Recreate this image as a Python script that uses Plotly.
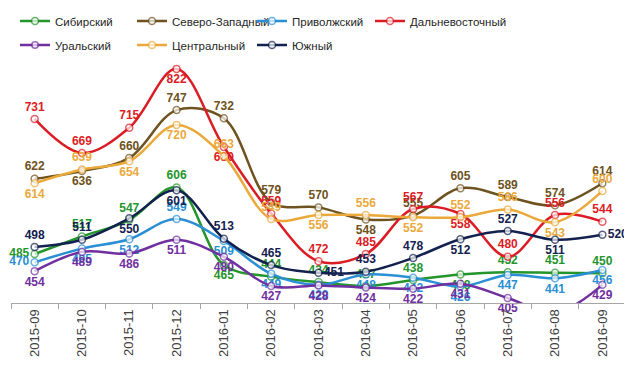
import plotly.graph_objects as go

months = ["2015-09", "2015-10", "2015-11", "2015-12", "2016-01", "2016-02", "2016-03",
          "2016-04", "2016-05", "2016-06", "2016-07", "2016-08", "2016-09"]

sib = [485, 517, 547, 606, 465, 444, 434, 427, 438, 448, 452, 451, 450]
szap = [622, 636, 660, 747, 732, 579, 570, 548, 555, 605, 589, 574, 614]
privol = [470, 495, 512, 549, 509, 449, 429, 448, 442, 426, 447, 441, 456]
dalvost = [731, 669, 715, 822, 680, 559, 472, 485, 567, 558, 480, 556, 544]
ural = [454, 489, 486, 511, 480, 427, 428, 424, 422, 431, 405, 378, 429]
centr = [614, 639, 654, 720, 663, 549, 556, 556, 552, 552, 566, 543, 600]
yuzh = [498, 511, 550, 601, 513, 465, 451, 453, 478, 512, 527, 511, 520]

Y_MIN, Y_MAX = 396, 860

T, B, L, R = "top center", "bottom center", "middle left", "middle right"
# name, values, colour, label positions, legend id, legend x (px), legend y (px from top)
series = [
    ("Сибирский", sib, "#23952b", [L, T, T, T, B, T, T, T, T, B, T, T, T], "legend", 7, 13),
    ("Северо-Западный", szap, "#6e5220", [T, B, T, T, T, T, T, B, T, T, T, T, T], "legend2", 124, 13),
    ("Приволжский", privol, "#2a8fd4", [L, B, B, T, B, B, B, B, B, B, B, B, B], "legend3", 244, 13),
    ("Дальневосточный", dalvost, "#dc1c24", [T, T, T, B, B, T, T, T, T, B, T, T, T], "legend4", 362, 13),
    ("Уральский", ural, "#7030a0", [B] * 13, "legend5", 7, 37),
    ("Центральный", centr, "#eaa93a", [B, T, B, B, T, T, B, T, B, T, T, B, T], "legend6", 124, 37),
    ("Южный", yuzh, "#13214f", [T, T, B, B, T, T, R, T, T, B, T, B, R], "legend7", 244, 37),
]

fig = go.Figure()
legends = {}
for name, vals, color, pos, leg, lx, ly in series:
    visible = [Y_MIN <= v <= Y_MAX for v in vals]
    fig.add_trace(go.Scatter(
        x=months, y=vals, name=name, legend=leg,
        mode="lines+markers+text",
        line=dict(color=color, width=2.5, shape="spline", smoothing=1),
        marker=dict(size=[7 if ok else 0 for ok in visible], color="white",
                    line=dict(color=color, width=1.5)),
        text=[str(v) if ok else "" for v, ok in zip(vals, visible)],
        textposition=pos,
        textfont=dict(family="Liberation Sans, Arial", size=12, color=color, weight="bold"),
        cliponaxis=False,
    ))
    legends[leg] = dict(
        orientation="h", xref="container", yref="container", xanchor="left", yanchor="middle",
        x=lx / 632, y=1 - ly / 370, bgcolor="rgba(0,0,0,0)",
        font=dict(family="Liberation Sans, Arial", size=11.5, color="#262626"),
        itemwidth=30,
    )

fig.update_layout(
    width=632, height=370,
    margin=dict(l=3, r=14, t=40, b=75, autoexpand=False),
    paper_bgcolor="white", plot_bgcolor="white",
    showlegend=True,
    xaxis=dict(type="category", showline=True, linecolor="#a6a6a6", linewidth=1,
               ticks="outside", tickson="boundaries", ticklen=5, tickcolor="#a6a6a6",
               tickangle=-90, showgrid=False, zeroline=False,
               tickfont=dict(family="Liberation Sans, Arial", size=13, color="#404040"),
               range=[-0.5, 12.5]),
    yaxis=dict(range=[Y_MIN, Y_MAX], visible=False, showgrid=False, zeroline=False),
    **legends,
)

fig.write_html("out.html")
